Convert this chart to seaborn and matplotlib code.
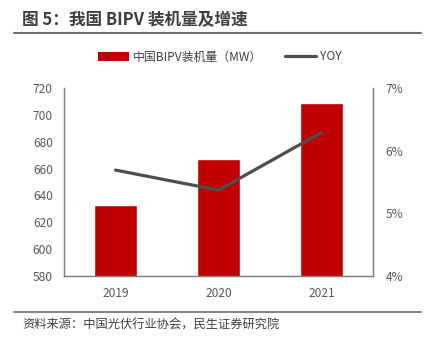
import numpy as np
import pandas as pd
import matplotlib
matplotlib.use("Agg")
import matplotlib.pyplot as plt
import seaborn as sns
from matplotlib.patches import Patch
from matplotlib.lines import Line2D

years = ["2019", "2020", "2021"]
capacity = [633, 667, 709]
yoy = [5.69, 5.37, 6.29]
left_ticks = [580, 600, 620, 640, 660, 680, 700, 720]
right_ticks = [4, 5, 6, 7]
title = "图 5：我国 BIPV 装机量及增速"
source = "资料来源：中国光伏行业协会，民生证券研究院"
bar_label = "中国BIPV装机量（MW）"
line_label = "YOY"

sns.set_theme(style="white")
plt.rcParams["font.family"] = ["Noto Sans CJK SC", "DejaVu Sans"]

BAR = "#C00000"
LINE = "#4D4D4D"
TXT = "#595959"
SPINE = "#808080"

fig = plt.figure(figsize=(4.32, 3.48), dpi=100)
ax = fig.add_axes([64/432, 1-276/348, (373-64)/432, (276-88)/348])

df = pd.DataFrame({"year": years, "cap": capacity, "yoy": yoy})
sns.barplot(data=df, x="year", y="cap", color=BAR, saturation=1, width=0.41, ax=ax)
ax.set_ylim(580, 720)
ax.set_xlim(-0.5, len(years) - 0.5)
ax.set_yticks(left_ticks)
ax.set_xlabel("")
ax.set_ylabel("")

ax2 = ax.twinx()
sns.lineplot(x=np.arange(len(years)), y=df["yoy"], color=LINE, linewidth=2.3, ax=ax2)
ax2.set_ylim(4, 7)
ax2.set_yticks(right_ticks)
ax2.set_yticklabels([f"{v}%" for v in right_ticks])
ax2.set_ylabel("")
ax.set_xlim(-0.5, len(years) - 0.5)

for a in (ax, ax2):
    a.tick_params(axis="both", length=0, labelsize=8.6, labelcolor=TXT)
    a.spines["top"].set_visible(False)
    for s in ("left", "right", "bottom"):
        a.spines[s].set_color(SPINE)
        a.spines[s].set_linewidth(0.9)
    a.grid(False)
ax.tick_params(axis="y", pad=8)
ax2.tick_params(axis="y", pad=9)
ax.tick_params(axis="x", pad=8)

handles = [Patch(facecolor=BAR, edgecolor="none"), Line2D([0], [0], color=LINE, linewidth=2.3)]
fig.legend(handles, [bar_label, line_label], loc="center", bbox_to_anchor=(220/432, 1-57/348),
           ncol=2, frameon=False, fontsize=8.6, handlelength=2.6, handleheight=0.7,
           handletextpad=0.35, columnspacing=1.9, labelcolor="#404040")

fig.text(22/432, 1-20/348, title, fontsize=12, fontweight="bold", color="#3F3F3F",
         ha="left", va="center")
fig.add_artist(Line2D([14/432, 421/432], [1-33/348, 1-33/348], color="#6E6E6E", linewidth=1.5))
fig.add_artist(Line2D([14/432, 421/432], [1-312/348, 1-312/348], color="#6E6E6E", linewidth=1.2))
fig.text(22/432, 1-325/348, source, fontsize=8.8, color="#404040", ha="left", va="center")

fig.savefig("out.png", dpi=100)
